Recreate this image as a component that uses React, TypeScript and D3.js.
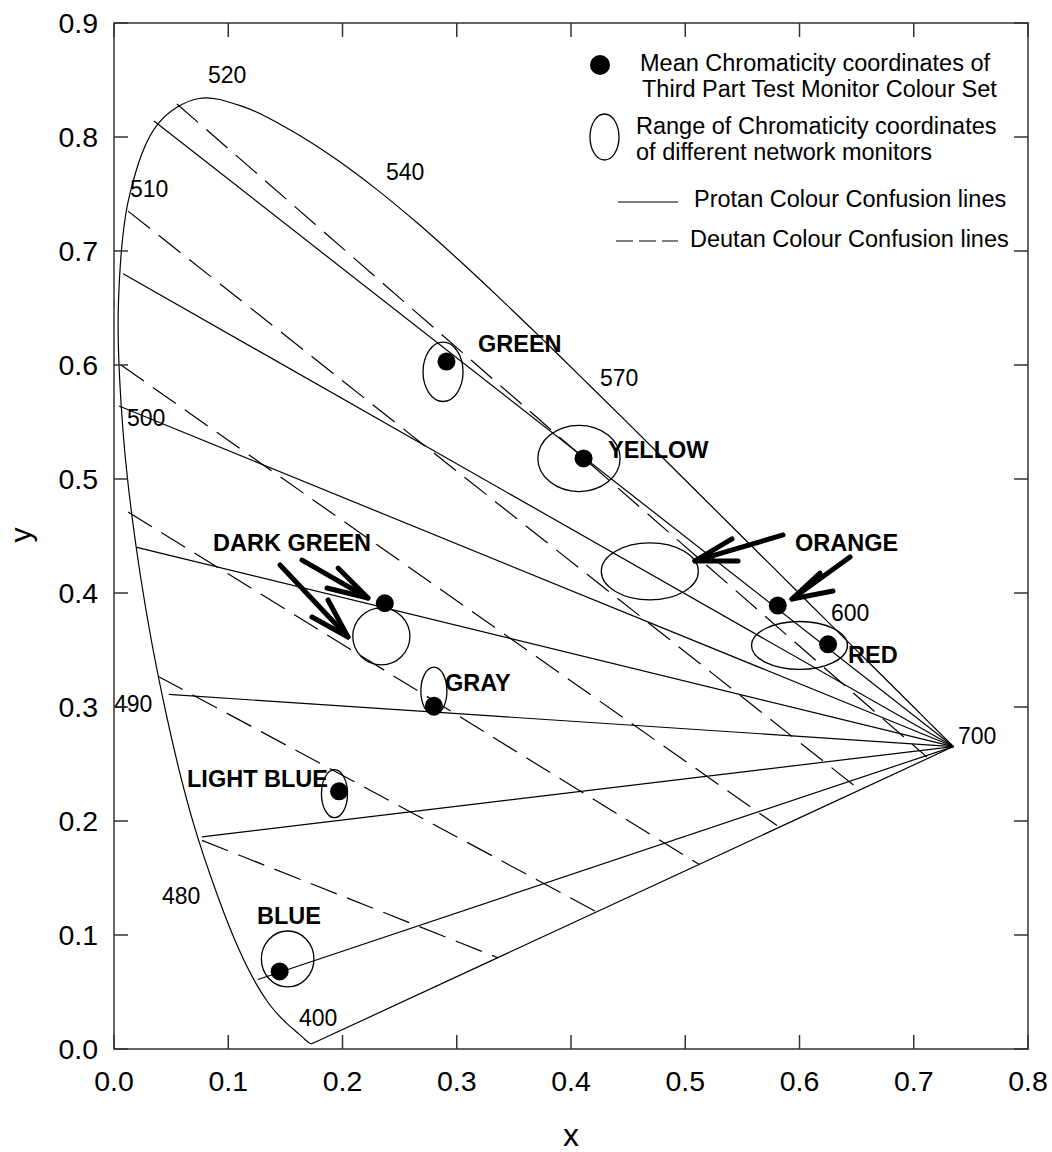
import React from 'react';
import * as d3 from 'd3';

const WIDTH = 1052;
const HEIGHT = 1152;
const FONT = "'Liberation Sans', Arial, Helvetica, sans-serif";

// CIE 1931 2° spectral locus, 380–700 nm in 5 nm steps
const locusNm = [
  380, 385, 390, 395, 400, 405, 410, 415, 420, 425, 430, 435, 440, 445, 450, 455, 460, 465, 470, 475,
  480, 485, 490, 495, 500, 505, 510, 515, 520, 525, 530, 535, 540, 545, 550, 555, 560, 565, 570, 575,
  580, 585, 590, 595, 600, 605, 610, 615, 620, 625, 630, 635, 640, 645, 650, 655, 660, 665, 670, 675,
  680, 685, 690, 695, 700,
];
const locusX = [
  0.1741, 0.174, 0.1738, 0.1736, 0.1733, 0.173, 0.1726, 0.1721, 0.1714, 0.1703, 0.1689, 0.1669, 0.1644,
  0.1611, 0.1566, 0.151, 0.144, 0.1355, 0.1241, 0.1096, 0.0913, 0.0687, 0.0454, 0.0235, 0.0082, 0.0039,
  0.0139, 0.0389, 0.0743, 0.1142, 0.1547, 0.1929, 0.2296, 0.2658, 0.3016, 0.3373, 0.3731, 0.4087, 0.4441,
  0.4788, 0.5125, 0.5448, 0.5752, 0.6029, 0.627, 0.6482, 0.6658, 0.6801, 0.6915, 0.7006, 0.7079, 0.714,
  0.719, 0.723, 0.726, 0.7283, 0.73, 0.7311, 0.732, 0.7327, 0.7334, 0.734, 0.7344, 0.7346, 0.7347,
];
const locusY = [
  0.005, 0.005, 0.0049, 0.0049, 0.0048, 0.0048, 0.0048, 0.0048, 0.0051, 0.0058, 0.0069, 0.0086, 0.0109,
  0.0138, 0.0177, 0.0227, 0.0297, 0.0399, 0.0578, 0.0868, 0.1327, 0.2007, 0.295, 0.4127, 0.5384, 0.6548,
  0.7502, 0.812, 0.8338, 0.8262, 0.8059, 0.7816, 0.7543, 0.7243, 0.6923, 0.6589, 0.6245, 0.5896, 0.5547,
  0.5202, 0.4866, 0.4544, 0.4242, 0.3965, 0.3725, 0.3514, 0.334, 0.3197, 0.3083, 0.2993, 0.292, 0.2859,
  0.2809, 0.277, 0.274, 0.2717, 0.27, 0.2689, 0.268, 0.2673, 0.2666, 0.266, 0.2656, 0.2654, 0.2653,
];

// Wavelength annotations along the locus (text start, baseline)
const waveLabels = ['520', '540', '510', '570', '500', '600', '490', '480', '400', '700'];
const waveLabelX = [0.0823, 0.2381, 0.014, 0.4254, 0.0114, 0.6276, 0.0, 0.042, 0.1619, 0.7387];
const waveLabelY = [0.8474, 0.7623, 0.7474, 0.5816, 0.5465, 0.3754, 0.2956, 0.1272, 0.0202, 0.2675];

// Test colours: mean chromaticity of the test set
const colourNames = ['GREEN', 'YELLOW', 'ORANGE', 'RED', 'DARK GREEN', 'GRAY', 'LIGHT BLUE', 'BLUE'];
const meanX = [0.291, 0.411, 0.581, 0.625, 0.237, 0.28, 0.197, 0.145];
const meanY = [0.603, 0.518, 0.389, 0.355, 0.391, 0.301, 0.226, 0.068];

// Spread across the network monitors (ellipse centre and half-axes)
const rangeCx = [0.288, 0.407, 0.469, 0.6, 0.234, 0.28, 0.193, 0.152];
const rangeCy = [0.594, 0.518, 0.419, 0.354, 0.362, 0.314, 0.224, 0.079];
const rangeRx = [0.0175, 0.036, 0.0425, 0.042, 0.025, 0.0114, 0.0114, 0.023];
const rangeRy = [0.026, 0.029, 0.025, 0.021, 0.025, 0.021, 0.021, 0.0245];

// Colour name positions (text start, baseline)
const nameX = [0.3186, 0.4324, 0.5961, 0.6425, 0.0867, 0.2897, 0.0639, 0.1252];
const nameY = [0.6114, 0.5184, 0.4368, 0.3386, 0.4368, 0.314, 0.2298, 0.1096];

// Protan confusion lines all run to the 700 nm corner
const protanPoint = [0.7347, 0.2653];
const protanStartX = [0.035, 0.008, 0.0044, 0.02, 0.048, 0.077, 0.126, 0.1741];
const protanStartY = [0.814, 0.68, 0.564, 0.44, 0.311, 0.186, 0.061, 0.005];

// Deutan confusion lines, from the locus down to the purple boundary
const deutanStartX = [0.0551, 0.0123, 0.0061, 0.0123, 0.0385, 0.077];
const deutanStartY = [0.829, 0.735, 0.6, 0.471, 0.327, 0.183];
const deutanEndX = [0.7116, 0.653, 0.5803, 0.512, 0.421, 0.3361];
const deutanEndY = [0.256, 0.227, 0.196, 0.162, 0.121, 0.08];

// Pointer arrows: tail, tip and the two barb ends
const arrowTail = [[0.1453, 0.4246], [0.1646, 0.4289], [0.5856, 0.4509], [0.6442, 0.4316]];
const arrowTip = [[0.2048, 0.3614], [0.2223, 0.3956], [0.5085, 0.4281], [0.5934, 0.3947]];
const arrowBarbA = [[0.1873, 0.3939], [0.1961, 0.4219], [0.5409, 0.4474], [0.6179, 0.4175]];
const arrowBarbB = [[0.1733, 0.3789], [0.1864, 0.4044], [0.5462, 0.4281], [0.6293, 0.4018]];

const xTicks = [0, 0.1, 0.2, 0.3, 0.4, 0.5, 0.6, 0.7, 0.8];
const yTicks = [0, 0.1, 0.2, 0.3, 0.4, 0.5, 0.6, 0.7, 0.8, 0.9];

export default function App() {
  const plotLeft = 114;
  const plotRight = 1028;
  const plotTop = 23;
  const plotBottom = 1049;

  const x = d3.scaleLinear().domain([0, 0.8]).range([plotLeft, plotRight]);
  const y = d3.scaleLinear().domain([0, 0.9]).range([plotBottom, plotTop]);
  const fmt = d3.format('.1f');

  const locusPts: [number, number][] = locusNm.map((_, i) => [locusX[i], locusY[i]]);
  const locusPath = d3
    .line<[number, number]>()
    .x((d) => x(d[0]))
    .y((d) => y(d[1]))
    .curve(d3.curveCatmullRom.alpha(0.5))(locusPts) as string;

  const seg = d3
    .line<number[]>()
    .x((d) => x(d[0]))
    .y((d) => y(d[1]));

  const tickLen = 14;
  const frameColor = '#333';

  return (
    <svg
      width={WIDTH}
      height={HEIGHT}
      viewBox={`0 0 ${WIDTH} ${HEIGHT}`}
      style={{ position: 'absolute', left: 0, top: 0, background: '#fff' }}
      fontFamily={FONT}
    >
      <rect x={0} y={0} width={WIDTH} height={HEIGHT} fill="#fff" />

      {/* spectral locus and wavelength marks */}
      <path d={locusPath} fill="none" stroke="#000" strokeWidth={1.2} />
      {waveLabels.map((t, i) => (
        <text key={t} x={x(waveLabelX[i])} y={y(waveLabelY[i])} fontSize={23} fill="#000">
          {t}
        </text>
      ))}

      {/* protan confusion lines */}
      {protanStartX.map((sx, i) => (
        <path
          key={`p${i}`}
          d={seg([[sx, protanStartY[i]], protanPoint]) as string}
          fill="none"
          stroke="#000"
          strokeWidth={1.2}
        />
      ))}

      {/* deutan confusion lines */}
      {deutanStartX.map((sx, i) => (
        <path
          key={`d${i}`}
          d={seg([[sx, deutanStartY[i]], [deutanEndX[i], deutanEndY[i]]]) as string}
          fill="none"
          stroke="#000"
          strokeWidth={1.2}
          strokeDasharray="28,11"
        />
      ))}

      {/* monitor ranges */}
      {colourNames.map((n, i) => (
        <ellipse
          key={`e${n}`}
          cx={x(rangeCx[i])}
          cy={y(rangeCy[i])}
          rx={x(rangeRx[i]) - x(0)}
          ry={y(0) - y(rangeRy[i])}
          fill="none"
          stroke="#000"
          strokeWidth={1.3}
        />
      ))}

      {/* mean chromaticity of the test set */}
      {colourNames.map((n, i) => (
        <circle key={`c${n}`} cx={x(meanX[i])} cy={y(meanY[i])} r={9} fill="#000" />
      ))}

      {/* colour names */}
      {colourNames.map((n, i) => (
        <text key={`t${n}`} x={x(nameX[i])} y={y(nameY[i])} fontSize={23.5} fontWeight="bold" fill="#000">
          {n}
        </text>
      ))}

      {/* pointer arrows */}
      {arrowTail.map((tail, i) => (
        <g key={`a${i}`} fill="none" stroke="#000" strokeWidth={5} strokeLinecap="round" strokeLinejoin="round">
          <path d={seg([tail, arrowTip[i]]) as string} />
          <path d={seg([arrowBarbA[i], arrowTip[i], arrowBarbB[i]]) as string} />
        </g>
      ))}

      {/* frame */}
      <rect
        x={plotLeft}
        y={plotTop}
        width={plotRight - plotLeft}
        height={plotBottom - plotTop}
        fill="none"
        stroke={frameColor}
        strokeWidth={1.5}
      />

      {/* ticks on all four sides, pointing inward */}
      {xTicks.map((v) => (
        <g key={`xt${v}`} stroke={frameColor} strokeWidth={1.5}>
          <line x1={x(v)} x2={x(v)} y1={plotBottom} y2={plotBottom - tickLen} />
          <line x1={x(v)} x2={x(v)} y1={plotTop} y2={plotTop + tickLen} />
        </g>
      ))}
      {yTicks.map((v) => (
        <g key={`yt${v}`} stroke={frameColor} strokeWidth={1.5}>
          <line x1={plotLeft} x2={plotLeft + tickLen} y1={y(v)} y2={y(v)} />
          <line x1={plotRight} x2={plotRight - tickLen} y1={y(v)} y2={y(v)} />
        </g>
      ))}

      {/* tick labels */}
      {xTicks.map((v) => (
        <text key={`xl${v}`} x={x(v)} y={1091} fontSize={28.5} textAnchor="middle" fill="#000">
          {fmt(v)}
        </text>
      ))}
      {yTicks.map((v) => (
        <text key={`yl${v}`} x={98} y={y(v) + 10} fontSize={28.5} textAnchor="end" fill="#000">
          {fmt(v)}
        </text>
      ))}

      {/* axis titles */}
      <text x={571} y={1146} fontSize={32} textAnchor="middle" fill="#000">
        x
      </text>
      <text
        transform={`translate(31, ${535}) rotate(-90)`}
        fontSize={30}
        textAnchor="middle"
        fill="#000"
      >
        y
      </text>

      {/* legend */}
      <g fill="#000" fontSize={23.5}>
        <circle cx={600} cy={65} r={10} />
        <text x={640} y={71}>Mean Chromaticity coordinates of</text>
        <text x={642} y={97}>Third Part Test Monitor Colour Set</text>
        <ellipse cx={604.5} cy={137} rx={14.5} ry={23} fill="none" stroke="#000" strokeWidth={1.3} />
        <text x={636} y={134}>Range of Chromaticity coordinates</text>
        <text x={636} y={160}>of different network monitors</text>
        <line x1={618} x2={678} y1={202} y2={202} stroke="#000" strokeWidth={1.2} />
        <text x={694} y={207}>Protan Colour Confusion lines</text>
        <line x1={616} x2={678} y1={241} y2={241} stroke="#000" strokeWidth={1.2} strokeDasharray="17,6" />
        <text x={690} y={247}>Deutan Colour Confusion lines</text>
      </g>
    </svg>
  );
}
